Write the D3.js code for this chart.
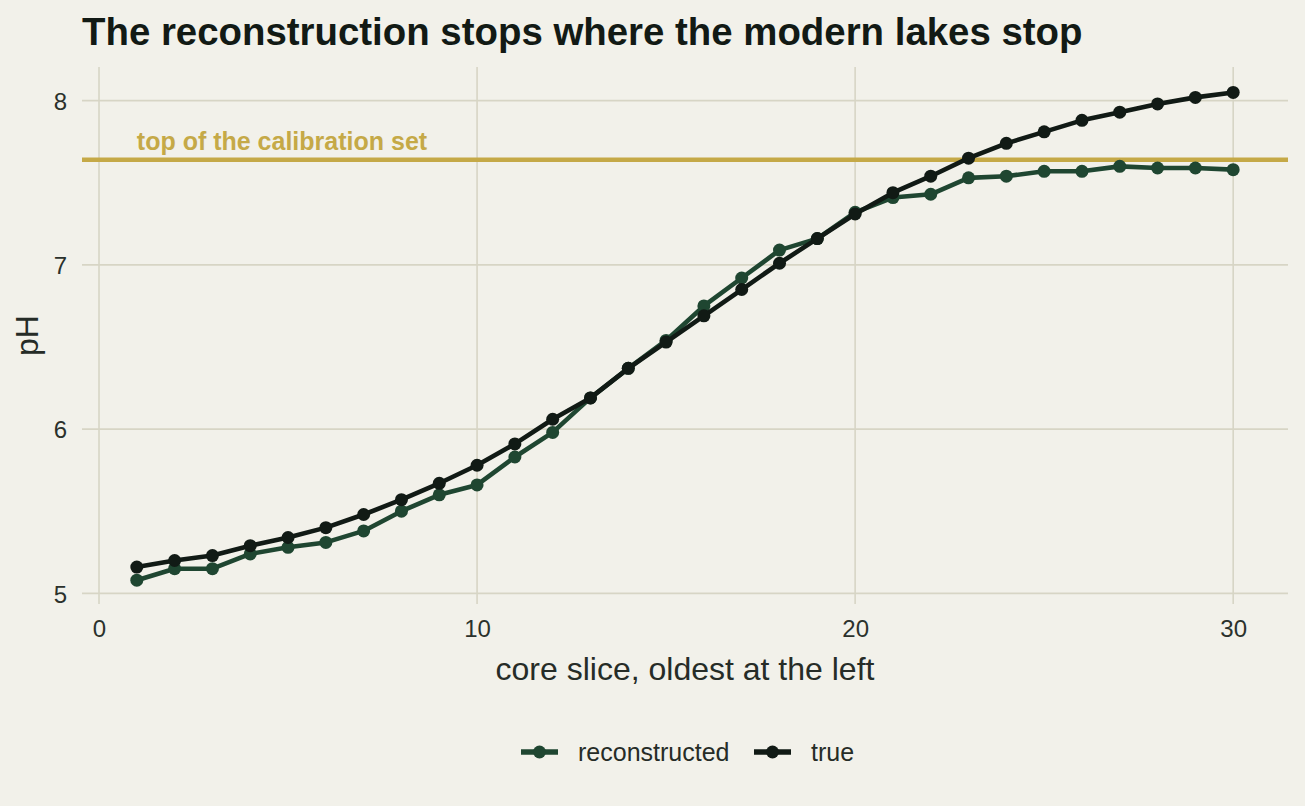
<!DOCTYPE html>
<html>
<head>
<meta charset="utf-8">
<script src="https://cdn.jsdelivr.net/npm/d3@7"></script>
<style>
body{margin:0;background:#f2f1ea;}
text{font-family:"Liberation Sans",Arial,sans-serif;}
</style>
</head>
<body>
<svg id="svg_canvas" width="1305" height="806"></svg>
<script>

// core slices, oldest at the left
var slices=[1,2,3,4,5,6,7,8,9,10,11,12,13,14,15,16,17,18,19,20,21,22,23,24,25,26,27,28,29,30];

var reconstructed=[5.08,5.15,5.15,5.24,5.28,5.31,5.38,5.50,5.60,5.66,
	5.83,5.98,6.19,6.37,6.54,6.75,6.92,7.09,7.16,7.32,
	7.41,7.43,7.53,7.54,7.57,7.57,7.60,7.59,7.59,7.58];

var true_ph=[5.16,5.20,5.23,5.29,5.34,5.40,5.48,5.57,5.67,5.78,
	5.91,6.06,6.19,6.37,6.53,6.69,6.85,7.01,7.16,7.31,
	7.44,7.54,7.65,7.74,7.81,7.88,7.93,7.98,8.02,8.05];

var x_ticks=[0,10,20,30];
var y_ticks=[5,6,7,8];
var calibration_top=7.64;

var series_names=["reconstructed","true"];
var series_colors=["#1f4631","#111a15"];


function draw(){

	var svg=d3.select("#svg_canvas");
	svg.append("rect").attr("width",1305).attr("height",806).attr("fill","#f2f1ea");

	var left_x=82, right_x=1288, top_y=67, bottom_y=604;

	var x=d3.scaleLinear().domain([-0.45,31.45]).range([left_x,right_x]);
	var y=d3.scaleLinear().domain([4.935,8.205]).range([bottom_y,top_y]);

	//grid
	var grid=svg.append("g");
	grid.selectAll("line.v").data(x_ticks).enter().append("line")
		.attr("x1",function(d){return x(d);}).attr("x2",function(d){return x(d);})
		.attr("y1",top_y).attr("y2",bottom_y)
		.attr("stroke","#d7d5c5").attr("stroke-width",1.6);
	grid.selectAll("line.h").data(y_ticks).enter().append("line")
		.attr("y1",function(d){return y(d);}).attr("y2",function(d){return y(d);})
		.attr("x1",left_x).attr("x2",right_x)
		.attr("stroke","#d7d5c5").attr("stroke-width",1.6);

	//axes, ggplot style: labels only
	var xaxis=svg.append("g").attr("transform","translate(0,637)")
		.call(d3.axisBottom(x).tickValues(x_ticks).tickFormat(d3.format("d")).tickSize(0).tickPadding(0));
	var yaxis=svg.append("g").attr("transform","translate(67,0)")
		.call(d3.axisLeft(y).tickValues(y_ticks).tickFormat(d3.format("d")).tickSize(0).tickPadding(0));
	[xaxis,yaxis].forEach(function(a){
		a.select(".domain").remove();
		a.selectAll("text").attr("font-size",24).attr("fill","#2b312c")
			.attr("font-family","Liberation Sans, Arial, sans-serif");
	});
	xaxis.selectAll("text").attr("dy",0).attr("y",0);
	yaxis.selectAll("text").attr("dy",0).attr("y",8.8);

	//calibration line
	svg.append("line")
		.attr("x1",left_x).attr("x2",right_x)
		.attr("y1",y(calibration_top)).attr("y2",y(calibration_top))
		.attr("stroke","#c5a947").attr("stroke-width",4.5);
	svg.append("text")
		.attr("x",x(1)).attr("y",y(calibration_top)-10)
		.attr("font-size",25).attr("font-weight","bold").attr("fill","#c5a947")
		.text("top of the calibration set");

	//series
	var all_series=[reconstructed,true_ph];
	var line=d3.line().x(function(d){return x(d[0]);}).y(function(d){return y(d[1]);});

	all_series.forEach(function(values,k){
		var pts=slices.map(function(s,i){return [s,values[i]];});
		var g=svg.append("g");
		g.append("path").datum(pts)
			.attr("d",line).attr("fill","none")
			.attr("stroke",series_colors[k]).attr("stroke-width",4.6)
			.attr("stroke-linejoin","round");
		g.selectAll("circle").data(pts).enter().append("circle")
			.attr("cx",function(d){return x(d[0]);})
			.attr("cy",function(d){return y(d[1]);})
			.attr("r",6.5).attr("fill",series_colors[k]);
	});

	//titles
	svg.append("text").attr("x",left_x).attr("y",45)
		.attr("font-size",38.4).attr("font-weight","bold").attr("fill","#121a15")
		.text("The reconstruction stops where the modern lakes stop");

	svg.append("text").attr("x",(left_x+right_x)/2).attr("y",680)
		.attr("text-anchor","middle").attr("font-size",32).attr("fill","#262c27")
		.text("core slice, oldest at the left");

	svg.append("text").attr("transform","translate(38,"+((top_y+bottom_y)/2)+") rotate(-90)")
		.attr("text-anchor","middle").attr("font-size",32).attr("fill","#262c27")
		.text("pH");

	//legend
	var legend=svg.append("g");
	var lx=[521,754];
	series_names.forEach(function(name,k){
		var item=legend.append("g").attr("transform","translate("+lx[k]+",752)");
		item.append("line").attr("x1",0).attr("x2",37).attr("y1",0).attr("y2",0)
			.attr("stroke",series_colors[k]).attr("stroke-width",5.5);
		item.append("circle").attr("cx",18.5).attr("cy",0).attr("r",6.5).attr("fill",series_colors[k]);
		item.append("text").attr("x",57).attr("y",9)
			.attr("font-size",25).attr("fill","#262c27").text(name);
	});

}

draw();

</script>
</body>
</html>
